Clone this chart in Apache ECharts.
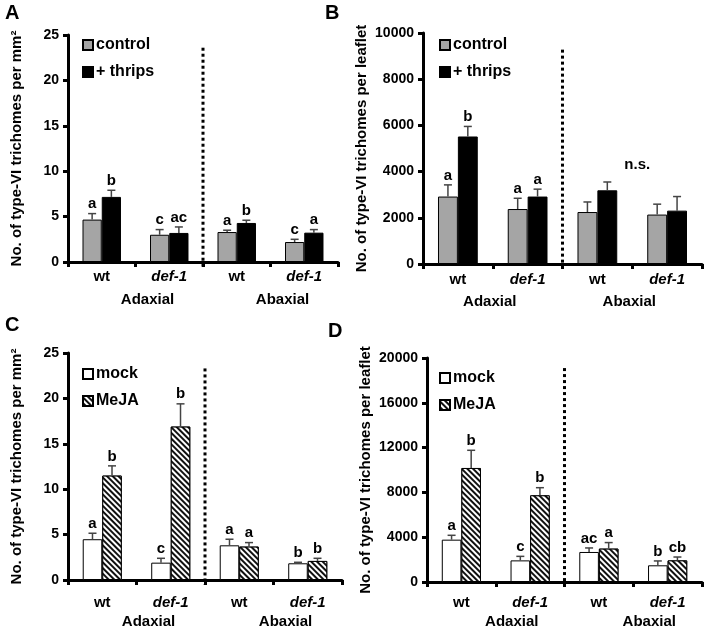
<!DOCTYPE html>
<html>
<head>
<meta charset="utf-8">
<script src="https://cdn.jsdelivr.net/npm/echarts@6/dist/echarts.min.js"></script>
<style>html,body{margin:0;padding:0;background:#fff;}#c{width:705px;height:630px;}</style>
</head>
<body>
<div id="c"></div>
<script>
// ---- data ----
const categories = ['wt', 'def-1', 'wt', 'def-1'];
const groups = ['Adaxial', 'Abaxial'];

// Panel A: trichomes per mm2 (thrips)
const aControl = [4.67, 3.0, 3.3, 2.2];
const aControlErr = [0.66, 0.57, 0.2, 0.3];
const aThrips = [7.17, 3.2, 4.3, 3.23];
const aThripsErr = [0.73, 0.66, 0.3, 0.34];
const aControlLetters = ['a', 'c', 'a', 'c'];
const aThripsLetters = ['b', 'ac', 'b', 'a'];

// Panel B: trichomes per leaflet (thrips)
const bControl = [2920, 2380, 2250, 2140];
const bControlErr = [505, 465, 435, 450];
const bThrips = [5520, 2920, 3190, 2310];
const bThripsErr = [435, 320, 360, 610];
const bControlLetters = ['a', 'a', '', ''];
const bThripsLetters = ['b', 'a', '', ''];
const bNote = [[2, 4300, 'n.s.']];

// Panel C: trichomes per mm2 (MeJA)
const cMock = [4.49, 1.91, 3.82, 1.84];
const cMockErr = [0.66, 0.48, 0.67, 0.11];
const cMeja = [11.5, 16.9, 3.68, 2.1];
const cMejaErr = [1.07, 2.5, 0.44, 0.29];
const cMockLetters = ['a', 'c', 'a', 'b'];
const cMejaLetters = ['b', 'b', 'a', 'b'];

// Panel D: trichomes per leaflet (MeJA)
const dMock = [3780, 1930, 2680, 1490];
const dMockErr = [390, 360, 360, 390];
const dMeja = [10180, 7740, 2980, 1930];
const dMejaErr = [1580, 680, 540, 300];
const dMockLetters = ['a', 'c', 'ac', 'b'];
const dMejaLetters = ['b', 'b', 'a', 'cb'];

const yTitleArea = 'No. of type-VI trichomes per mm\u00B2';
const yTitleLeaf = 'No. of type-VI trichomes per leaflet';

// ---- layout / style ----
const FF = '"Liberation Sans", Arial, Helvetica, sans-serif';
const GAP = 0.43;
const panels = [
  {grid: {left: 68, top: 35, width: 270, height: 227}, y: {max: 25, interval: 5}, name: yTitleArea, nameGap: 44, nameSize: 15,
   lblMargin: 7, grpMargin: 30, grpShift: 12, divTop: 23.6, legend: {left: 82, top: 37}},
  {grid: {left: 423, top: 33, width: 279, height: 231}, y: {max: 10000, interval: 2000}, name: yTitleLeaf, nameGap: 54, nameSize: 15,
   lblMargin: 8, grpMargin: 30, grpShift: -3, divTop: 9280, legend: {left: 439, top: 37}},
  {grid: {left: 68, top: 353, width: 274, height: 227}, y: {max: 25, interval: 5}, name: yTitleArea, nameGap: 44, nameSize: 15,
   lblMargin: 15, grpMargin: 34, grpShift: 12, divTop: 23.3, legend: {left: 82, top: 366}},
  {grid: {left: 427, top: 358, width: 275, height: 224}, y: {max: 20000, interval: 4000}, name: yTitleLeaf, nameGap: 54, nameSize: 15,
   lblMargin: 13, grpMargin: 32, grpShift: 16, divTop: 19100, legend: {left: 439, top: 370}}
];

const grids = [], xAxes = [], yAxes = [], series = [], legends = [];

panels.forEach((p, k) => {
  grids.push(Object.assign({containLabel: false}, p.grid));
  xAxes.push({
    type: 'category', gridIndex: k, data: categories,
    axisLine: {show: true, lineStyle: {color: '#000', width: 3}},
    axisTick: {show: true, length: 5, lineStyle: {color: '#000', width: 3}},
    axisLabel: {
      margin: p.lblMargin, color: '#000',
      formatter: v => v === 'def-1' ? '{i|def-1}' : '{b|' + v + '}',
      rich: {
        i: {fontStyle: 'italic', fontWeight: 'bold', fontSize: 15, fontFamily: FF, color: '#000'},
        b: {fontWeight: 'bold', fontSize: 15, fontFamily: FF, color: '#000'}
      }
    },
    splitLine: {show: false}
  });
  const pad = p.grpShift >= 0 ? [0, 0, 0, 2 * p.grpShift] : [0, -2 * p.grpShift, 0, 0];
  xAxes.push({
    type: 'category', gridIndex: k, data: groups, position: 'bottom',
    axisLine: {show: false}, axisTick: {show: false}, splitLine: {show: false},
    axisLabel: {margin: p.grpMargin, fontWeight: 'bold', fontSize: 15, fontFamily: FF, color: '#000', padding: pad}
  });
  yAxes.push({
    type: 'value', gridIndex: k, min: 0, max: p.y.max, interval: p.y.interval,
    name: p.name, nameLocation: 'middle', nameGap: p.nameGap, nameRotate: 90,
    nameTextStyle: {fontWeight: 'bold', fontSize: p.nameSize, fontFamily: FF, color: '#000'},
    axisLine: {show: true, lineStyle: {color: '#000', width: 3}},
    axisTick: {show: true, length: 5, lineStyle: {color: '#000', width: 3}},
    axisLabel: {margin: 9, fontWeight: 'bold', fontSize: 14, fontFamily: FF, color: '#000',
      formatter: v => String(v)},
    splitLine: {show: false}
  });
});

const grayStyle = {color: '#a5a5a5', borderColor: '#000', borderWidth: 1};
const blackStyle = {color: '#000', borderColor: '#000', borderWidth: 1};
const whiteStyle = {color: '#fff', borderColor: '#000', borderWidth: 1};
const hatchStyle = {
  color: '#fff', borderColor: '#000', borderWidth: 1,
  decal: {symbol: 'rect', symbolSize: 1, dashArrayX: [[1, 0]], dashArrayY: [1.1, 1.9],
          rotation: Math.PI / 4, color: '#111', backgroundColor: '#fff'}
};

function barSeries(name, k, data, style) {
  return {
    name, type: 'bar', xAxisIndex: 2 * k, yAxisIndex: k, data,
    barGap: 0, barCategoryGap: (GAP * 100) + '%', itemStyle: style,
    emphasis: {disabled: true}, z: 3
  };
}

function errSeries(k, means, errs, letters, side) {
  return {
    type: 'custom', xAxisIndex: 2 * k, yAxisIndex: k, z: 4, silent: true,
    data: means.map((m, i) => [i, m, m + errs[i]]),
    encode: {x: 0, y: [1, 2]},
    renderItem(params, api) {
      const i = params.dataIndex;
      const band = api.size([1, 0])[0];
      const off = side * band * (1 - GAP) / 4;
      const base = api.coord([api.value(0), api.value(1)]);
      const top = api.coord([api.value(0), api.value(2)]);
      const x = base[0] + off;
      const ch = [
        {type: 'line', shape: {x1: x, y1: base[1], x2: x, y2: top[1]}, style: {stroke: '#444', lineWidth: 1.5}},
        {type: 'line', shape: {x1: x - 4, y1: top[1], x2: x + 4, y2: top[1]}, style: {stroke: '#444', lineWidth: 1.5}}
      ];
      if (letters[i]) {
        ch.push({type: 'text', x: x, y: top[1] - 2,
          style: {text: letters[i], font: 'bold 15px ' + FF, fill: '#000', align: 'center', verticalAlign: 'bottom'}});
      }
      return {type: 'group', children: ch};
    }
  };
}

function dividerSeries(k, topVal) {
  return {
    type: 'custom', xAxisIndex: 2 * k, yAxisIndex: k, z: 2, silent: true,
    data: [[1, topVal]],
    renderItem(params, api) {
      const a = api.coord([1, api.value(1)]);
      const b = api.coord([2, api.value(1)]);
      const zero = api.coord([1, 0]);
      const x = (a[0] + b[0]) / 2;
      return {type: 'line', shape: {x1: x, y1: a[1], x2: x, y2: zero[1] + 5},
        style: {stroke: '#000', lineWidth: 3, lineDash: [3, 3]}};
    }
  };
}

function noteSeries(k, notes) {
  return {
    type: 'custom', xAxisIndex: 2 * k, yAxisIndex: k, z: 4, silent: true,
    data: notes.map(n => [n[0], n[1]]),
    renderItem(params, api) {
      const c = api.value(0);
      const a = api.coord([c, api.value(1)]);
      const b = api.coord([c + 1, api.value(1)]);
      return {type: 'text', x: (a[0] + b[0]) / 2 + 5, y: a[1],
        style: {text: notes[params.dataIndex][2], font: 'bold 15px ' + FF, fill: '#000', align: 'center', verticalAlign: 'middle'}};
    }
  };
}

// Panel A
series.push(barSeries('control', 0, aControl, grayStyle), barSeries('+ thrips', 0, aThrips, blackStyle),
  errSeries(0, aControl, aControlErr, aControlLetters, -1), errSeries(0, aThrips, aThripsErr, aThripsLetters, 1),
  dividerSeries(0, panels[0].divTop));
// Panel B
series.push(barSeries('control', 1, bControl, grayStyle), barSeries('+ thrips', 1, bThrips, blackStyle),
  errSeries(1, bControl, bControlErr, bControlLetters, -1), errSeries(1, bThrips, bThripsErr, bThripsLetters, 1),
  dividerSeries(1, panels[1].divTop), noteSeries(1, bNote));
// Panel C
series.push(barSeries('mock', 2, cMock, whiteStyle), barSeries('MeJA', 2, cMeja, hatchStyle),
  errSeries(2, cMock, cMockErr, cMockLetters, -1), errSeries(2, cMeja, cMejaErr, cMejaLetters, 1),
  dividerSeries(2, panels[2].divTop));
// Panel D
series.push(barSeries('mock', 3, dMock, whiteStyle), barSeries('MeJA', 3, dMeja, hatchStyle),
  errSeries(3, dMock, dMockErr, dMockLetters, -1), errSeries(3, dMeja, dMejaErr, dMejaLetters, 1),
  dividerSeries(3, panels[3].divTop));

const legendNames = [['control', '+ thrips'], ['control', '+ thrips'], ['mock', 'MeJA'], ['mock', 'MeJA']];
panels.forEach((p, k) => {
  legends.push({
    data: legendNames[k], orient: 'vertical', left: p.legend.left, top: p.legend.top,
    icon: 'rect', itemWidth: 10, itemHeight: 10, itemGap: 11, selectedMode: false, padding: 0,
    textStyle: {fontWeight: 'bold', fontSize: 16, fontFamily: FF, color: '#000', padding: [0, 0, 0, -2]}
  });
});

const labels = [['A', 5, 3], ['B', 325, 3], ['C', 5, 315], ['D', 328, 321]];

const chart = echarts.init(document.getElementById('c'), null, {renderer: 'canvas'});
chart.setOption({
  animation: false,
  backgroundColor: '#fff',
  grid: grids, xAxis: xAxes, yAxis: yAxes, series, legend: legends,
  graphic: labels.map(l => ({type: 'text', left: l[1], top: l[2],
    style: {text: l[0], font: 'bold 20px ' + FF, fill: '#000'}}))
});
</script>
</body>
</html>
